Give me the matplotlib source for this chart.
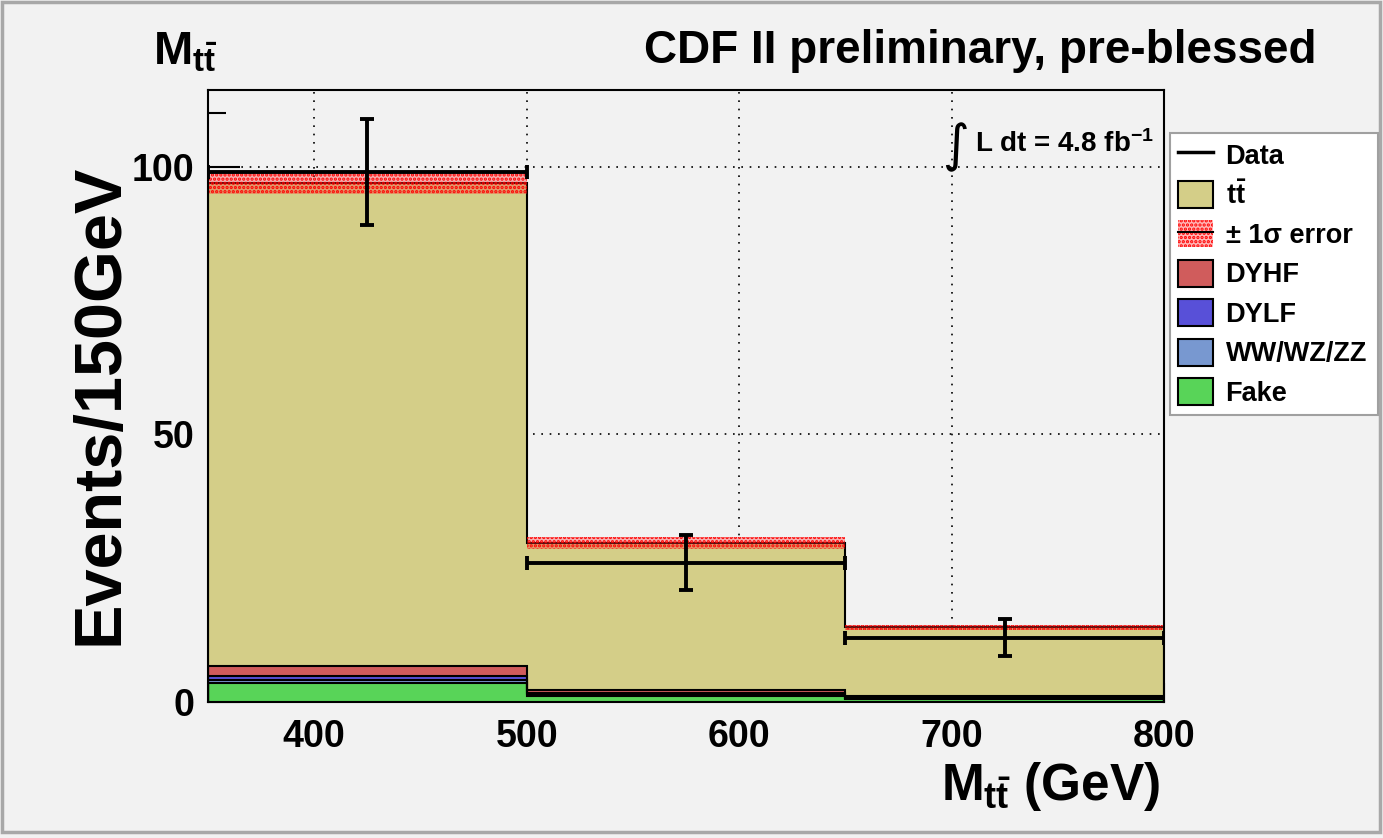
import numpy as np
import matplotlib
matplotlib.use("Agg")
import matplotlib.pyplot as plt
from matplotlib.lines import Line2D
from matplotlib.patches import Patch, Rectangle
from matplotlib.ticker import MultipleLocator

plt.rcParams["font.family"] = ["Liberation Sans", "DejaVu Sans"]
plt.rcParams["font.weight"] = "bold"
plt.rcParams["mathtext.fontset"] = "custom"
plt.rcParams["mathtext.rm"] = "Liberation Sans:bold"
plt.rcParams["mathtext.it"] = "Liberation Sans:bold"
plt.rcParams["mathtext.bf"] = "Liberation Sans:bold"
plt.rcParams["hatch.linewidth"] = 1.6

# bins in M_tt (GeV)
bordes = np.array([350, 500, 650, 800])
datos = np.array([99, 26, 12])
fake = np.array([3.5, 1.2, 0.6])
diboson = np.array([0.7, 0.3, 0.1])
dylf = np.array([0.6, 0.2, 0.1])
dyhf = np.array([1.9, 0.5, 0.25])
ttbar = np.array([90.3, 27.5, 12.9])
error_sist = np.array([2.2, 1.2, 0.5])

fondo = "#f2f2f2"
componentes = [
    (fake, "#58d458", "Fake"),
    (diboson, "#7898d0", "WW/WZ/ZZ"),
    (dylf, "#5850d8", "DYLF"),
    (dyhf, "#d05c5c", "DYHF"),
    (ttbar, "#d4ce88", r"$t\bar{t}$"),
]

fig = plt.figure(figsize=(13.83, 8.38), dpi=100, facecolor=fondo)
ax = fig.add_axes([208 / 1383, 136 / 838, 956 / 1383, 612 / 838])
ax.set_facecolor(fondo)

# histograma apilado
base = np.zeros(len(datos))
for valores, color, _ in componentes:
    arriba = base + valores
    ax.stairs(arriba, bordes, baseline=base, fill=True, color=color, zorder=2)
    base = arriba
base = np.zeros(len(datos))
for valores, _, _ in componentes:
    base = base + valores
    ax.stairs(base, bordes, baseline=0, fill=False, color="black", lw=1.5, zorder=3)

total = base
ax.stairs(total + error_sist, bordes, baseline=total - error_sist, fill=True,
          facecolor=(1, 0.2, 0.2, 0.35), edgecolor="red", hatch="....", lw=0, zorder=4)

# datos con barras de error
centros = 0.5 * (bordes[:-1] + bordes[1:])
ax.errorbar(centros, datos, xerr=np.diff(bordes) / 2, yerr=np.sqrt(datos), fmt="none",
            ecolor="black", elinewidth=2.8, capsize=5, capthick=2.8, zorder=5)

ax.set_xlim(350, 800)
ax.set_ylim(0, 114.3)
ax.xaxis.set_major_locator(MultipleLocator(100))
ax.xaxis.set_minor_locator(MultipleLocator(20))
ax.yaxis.set_major_locator(MultipleLocator(50))
ax.yaxis.set_minor_locator(MultipleLocator(10))
ax.tick_params(axis="both", which="both", direction="in", width=1.5, labelsize=27, zorder=6)
ax.tick_params(axis="x", which="major", length=13.5, pad=12)
ax.tick_params(axis="x", which="minor", length=6.5)
ax.tick_params(axis="y", which="major", length=23, pad=10)
ax.tick_params(axis="y", which="minor", length=13)
for lab in ax.get_xticklabels() + ax.get_yticklabels():
    lab.set_fontweight("bold")
for sp in ax.spines.values():
    sp.set_linewidth(1.5)
    sp.set_zorder(6)

ax.set_axisbelow(True)
ax.grid(True, which="major", color="black", linestyle=(0, (1, 4)), linewidth=1.2, zorder=0)

# textos
fig.text(153 / 1383, 1 - 64 / 838, r"$M_{t\bar{t}}$", fontsize=34, ha="left", va="baseline")
fig.text(1317 / 1383, 1 - 63 / 838, "CDF II preliminary, pre-blessed", fontsize=33,
         ha="right", va="baseline")
fig.text(101 / 1383, 1 - 404 / 838, "Events/150GeV", fontsize=48, rotation=90,
         ha="center", va="center")
fig.text(1160 / 1383, 1 - 800 / 838, r"$M_{t\bar{t}}$ (GeV)", fontsize=37,
         ha="right", va="baseline")
fig.text(942 / 1383, 1 - 147 / 838, "\u222b", fontsize=37, ha="left", va="center",
         family=["DejaVu Sans"], fontweight="normal")
fig.text(975 / 1383, 1 - 152 / 838, r"L dt = 4.8 fb$^{-1}$", fontsize=20,
         ha="left", va="baseline")

# leyenda
manejadores = [
    Line2D([], [], color="black", lw=2.5),
    Patch(facecolor="#d4ce88", edgecolor="black", lw=1.5),
    (Patch(facecolor=(1, 0.2, 0.2, 0.35), edgecolor="red", hatch="....", lw=0),
     Line2D([], [], color="black", lw=1.5)),
]
etiquetas = ["Data", r"$t\bar{t}$", "\u00b1 1\u03c3 error"]
for valores, color, nombre in componentes[3::-1]:
    manejadores.append(Patch(facecolor=color, edgecolor="black", lw=1.5))
    etiquetas.append(nombre)

leg = fig.legend(manejadores, etiquetas, loc="upper left",
                 bbox_to_anchor=(1170 / 1383, 1 - 418 / 838, 208 / 1383, 285 / 838),
                 mode="expand", fontsize=19.5, frameon=True, fancybox=False,
                 edgecolor="#a0a0a0", facecolor="white", framealpha=1,
                 handlelength=1.3, handleheight=1.15, labelspacing=0.4,
                 handletextpad=0.45, borderpad=0.3, borderaxespad=0)
leg.get_frame().set_linewidth(1.5)

# borde del lienzo
fig.patches.append(Rectangle((2 / 1383, 6 / 838), 1378 / 1383, 830 / 838,
                             transform=fig.transFigure, fill=False,
                             edgecolor="#a8a8a8", lw=2.5))

fig.savefig("out.png", dpi=100, facecolor=fondo)
